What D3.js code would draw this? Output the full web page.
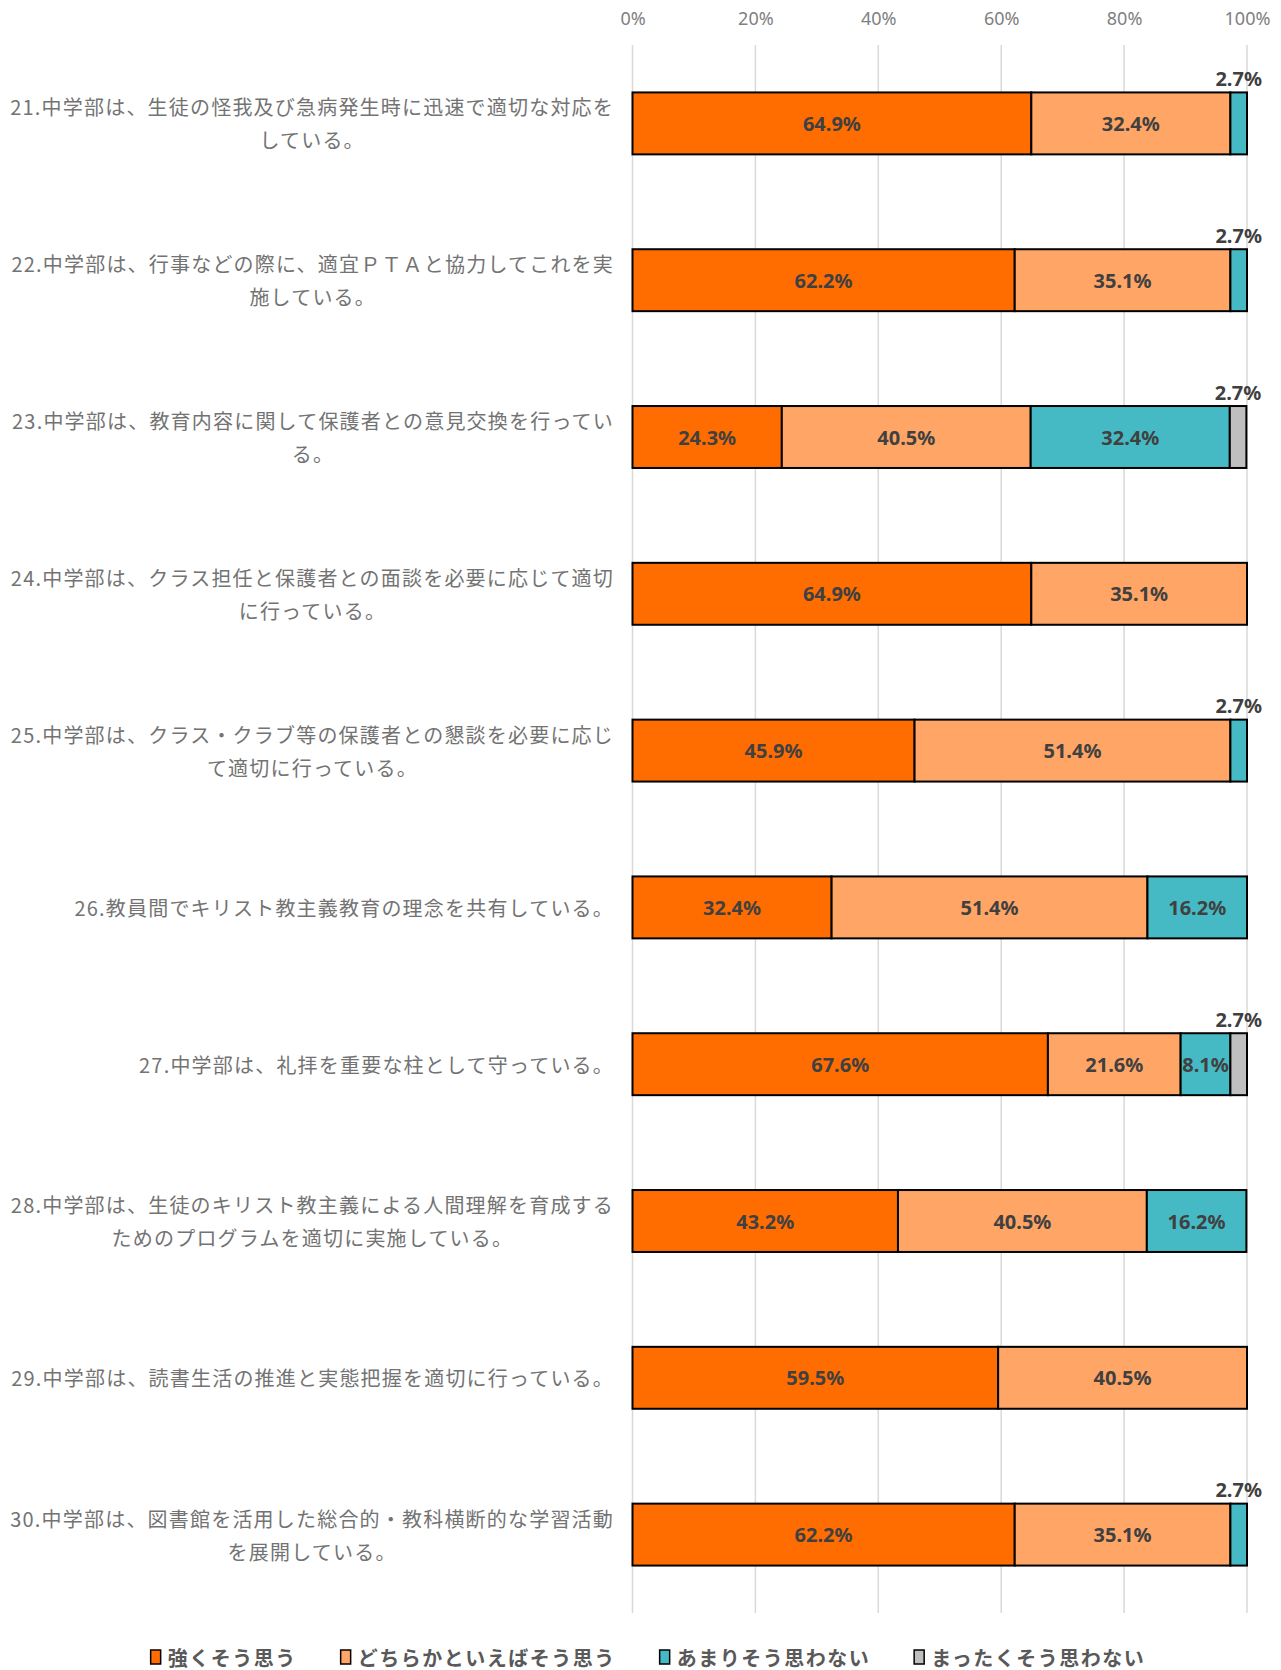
<!DOCTYPE html>
<html>
<head>
<meta charset="utf-8">
<script src="https://cdn.jsdelivr.net/npm/d3@7"></script>
<style>
  body { margin: 0; background: #fff; }
  svg { display: block; font-family: "Noto Sans CJK JP", "Noto Sans", sans-serif; }
</style>
</head>
<body>
<svg id="chart" width="1281" height="1670"></svg>
<script>
const categories = [
  "21.中学部は、生徒の怪我及び急病発生時に迅速で適切な対応を\nしている。",
  "22.中学部は、行事などの際に、適宜ＰＴＡと協力してこれを実\n施している。",
  "23.中学部は、教育内容に関して保護者との意見交換を行ってい\nる。",
  "24.中学部は、クラス担任と保護者との面談を必要に応じて適切\nに行っている。",
  "25.中学部は、クラス・クラブ等の保護者との懇談を必要に応じ\nて適切に行っている。",
  "26.教員間でキリスト教主義教育の理念を共有している。",
  "27.中学部は、礼拝を重要な柱として守っている。",
  "28.中学部は、生徒のキリスト教主義による人間理解を育成する\nためのプログラムを適切に実施している。",
  "29.中学部は、読書生活の推進と実態把握を適切に行っている。",
  "30.中学部は、図書館を活用した総合的・教科横断的な学習活動\nを展開している。"
];

const seriesNames = ["強くそう思う", "どちらかといえばそう思う", "あまりそう思わない", "まったくそう思わない"];
const strong = [64.9, 62.2, 24.3, 64.9, 45.9, 32.4, 67.6, 43.2, 59.5, 62.2];
const somewhat = [32.4, 35.1, 40.5, 35.1, 51.4, 51.4, 21.6, 40.5, 40.5, 35.1];
const notMuch = [2.7, 2.7, 32.4, 0, 2.7, 16.2, 8.1, 16.2, 0, 2.7];
const notAtAll = [0, 0, 2.7, 0, 0, 0, 2.7, 0, 0, 0];
const tickValues = [0, 20, 40, 60, 80, 100];

const colors = ["#ff6d00", "#ffa566", "#45bac4", "#bfbfbf"];

const svg = d3.select("#chart");

const xScale = d3.scaleLinear().domain([0, 100]).range([632.5, 1247]);
const yScale = d3
  .scaleBand()
  .domain(categories)
  .range([45, 1613])
  .paddingInner(0.605)
  .paddingOuter(0.3025);

// gridlines
svg
  .append("g")
  .selectAll("line")
  .data(tickValues)
  .join("line")
  .attr("x1", (d) => xScale(d))
  .attr("x2", (d) => xScale(d))
  .attr("y1", 45)
  .attr("y2", 1613)
  .attr("stroke", "#d9d9d9")
  .attr("stroke-width", 1.5);

// top axis labels
const xAxis = d3
  .axisTop(xScale)
  .tickValues(tickValues)
  .tickFormat((d) => d + "%")
  .tickSize(0)
  .tickPadding(0);

const axisG = svg.append("g").attr("transform", "translate(0,25)").call(xAxis);
axisG.select(".domain").remove();
axisG
  .selectAll("text")
  .attr("fill", "#808080")
  .style("font-size", "18px")
  .style("font-family", "'Noto Sans', sans-serif");

// stacked data
const series = [strong, somewhat, notMuch, notAtAll];
const rows = categories.map((c, i) => {
  let acc = 0;
  return series.map((s, k) => {
    const seg = { cat: c, k: k, x0: acc, x1: acc + s[i], v: s[i] };
    acc += s[i];
    return seg;
  });
});
const segs = rows.flat().filter((d) => d.v > 0);

svg
  .append("g")
  .selectAll("rect")
  .data(segs)
  .join("rect")
  .attr("x", (d) => xScale(d.x0))
  .attr("y", (d) => yScale(d.cat))
  .attr("width", (d) => xScale(d.x1) - xScale(d.x0))
  .attr("height", yScale.bandwidth())
  .attr("fill", (d) => colors[d.k])
  .attr("stroke", "#000")
  .attr("stroke-width", 2);

// value labels (tiny segments go above the bar)
svg
  .append("g")
  .selectAll("text")
  .data(segs)
  .join("text")
  .attr("x", (d) => xScale((d.x0 + d.x1) / 2))
  .attr("y", (d) =>
    d.v < 5
      ? yScale(d.cat) - 14
      : yScale(d.cat) + yScale.bandwidth() / 2
  )
  .attr("text-anchor", "middle")
  .attr("dominant-baseline", "central")
  .attr("fill", "#404040")
  .style("font-size", "20px")
  .style("font-weight", "bold")
  .style("font-family", "'Noto Sans', sans-serif")
  .text((d) => d.v.toFixed(1) + "%");

// category labels, centered in a box right-aligned to the axis
const labelRight = 614;
const lineH = 33;
const labelG = svg.append("g");
categories.forEach((c) => {
  const lines = c.split("\n");
  const cy = yScale(c) + yScale.bandwidth() / 2;
  const texts = lines.map((ln, j) =>
    labelG
      .append("text")
      .attr("y", cy + (j - (lines.length - 1) / 2) * lineH)
      .attr("dominant-baseline", "central")
      .attr("text-anchor", "middle")
      .attr("fill", "#737373")
      .style("font-size", "20px")
      .style("letter-spacing", "1.2px")
      .text(ln)
  );
  const maxW = d3.max(texts, (t) => t.node().getComputedTextLength());
  texts.forEach((t) => t.attr("x", labelRight - maxW / 2));
});

// legend
const legend = svg.append("g");
const legendGap = 44;
let lx = 0;
seriesNames.forEach((name, k) => {
  const item = legend.append("g").attr("transform", `translate(${lx},0)`);
  item
    .append("rect")
    .attr("x", 0)
    .attr("y", -7)
    .attr("width", 10)
    .attr("height", 14)
    .attr("fill", colors[k])
    .attr("stroke", "#000")
    .attr("stroke-width", 1.5);
  const t = item
    .append("text")
    .attr("x", 17)
    .attr("dominant-baseline", "central")
    .attr("fill", "#595959")
    .style("font-size", "20px")
    .style("font-weight", "bold")
    .style("letter-spacing", "1.5px")
    .text(name);
  lx += 17 + t.node().getComputedTextLength() + legendGap;
});
const legendW = lx - legendGap;
legend.attr("transform", `translate(${648 - legendW / 2},1657)`);
</script>
</body>
</html>
